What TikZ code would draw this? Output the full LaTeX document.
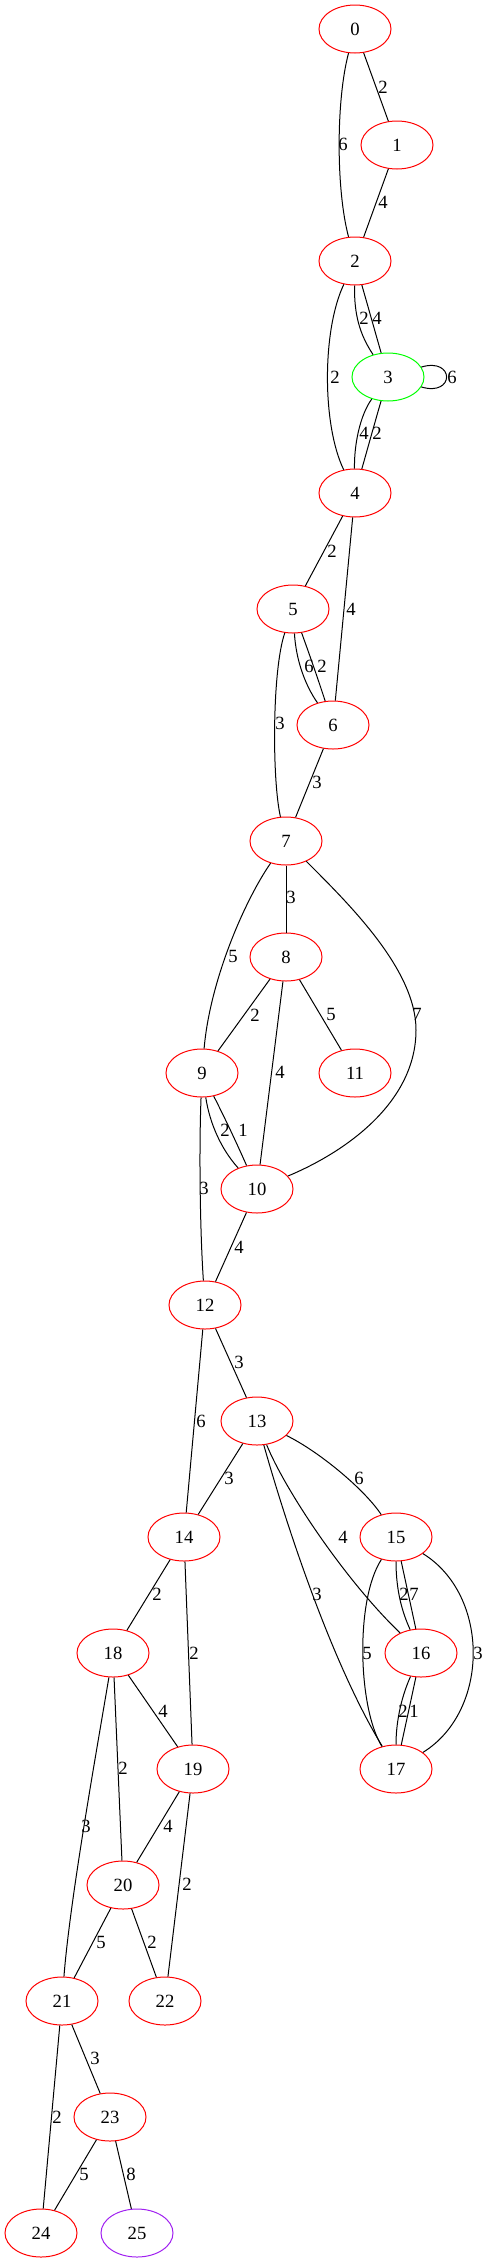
\documentclass[tikz,border=0pt]{standalone}
\usepackage{fontspec}
\setmainfont{Liberation Serif}
\usetikzlibrary{shapes.geometric}
\definecolor{gvred}{HTML}{FF0000}
\definecolor{gvgreen}{HTML}{00FF00}
\definecolor{gvpurple}{HTML}{A020F0}
\begin{document}
\begin{tikzpicture}[x=0.75pt,y=-0.75pt,
  vert/.style={ellipse,draw=gvred,line width=0.75pt,minimum width=54pt,minimum height=36pt,inner sep=0pt,font=\fontsize{14}{16}\selectfont},
  conn/.style={line width=0.75pt,black},
  elabel/.style={inner sep=0pt,font=\fontsize{14}{16}\selectfont}]
\useasboundingbox (0,0) rectangle (489,2263);
% nodes
\node[vert] (n0) at (355,29) {0};
\node[vert] (n1) at (397,145) {1};
\node[vert] (n2) at (355,261) {2};
\node[vert,draw=gvgreen] (n3) at (388,377) {3};
\node[vert] (n4) at (355,493) {4};
\node[vert] (n5) at (293,609) {5};
\node[vert] (n6) at (333,725) {6};
\node[vert] (n7) at (286,841) {7};
\node[vert] (n8) at (286,957) {8};
\node[vert] (n9) at (202,1073) {9};
\node[vert] (n11) at (355,1073) {11};
\node[vert] (n10) at (257,1189) {10};
\node[vert] (n12) at (205,1305) {12};
\node[vert] (n13) at (257,1421) {13};
\node[vert] (n14) at (184,1537) {14};
\node[vert] (n15) at (396,1537) {15};
\node[vert] (n16) at (421,1653) {16};
\node[vert] (n18) at (113,1653) {18};
\node[vert] (n17) at (396,1769) {17};
\node[vert] (n19) at (193,1769) {19};
\node[vert] (n20) at (123,1885) {20};
\node[vert] (n21) at (62,2001) {21};
\node[vert] (n22) at (165,2001) {22};
\node[vert] (n23) at (110,2117) {23};
\node[vert] (n24) at (41,2233) {24};
\node[vert,draw=gvpurple] (n25) at (137,2233) {25};
% edges
\draw[conn] (n0) -- (n1);
\draw[conn] (n0) .. controls (336,100) and (336,190) .. (n2);
\draw[conn] (n1) -- (n2);
\draw[conn] (n2) .. controls (354,315) and (360,335) .. (n3);
\draw[conn] (n2) .. controls (368.3,307.7) and (374.7,330.3) .. (n3);
\draw[conn] (n2) .. controls (322,330) and (322,425) .. (n4);
\draw[conn] (n3) .. controls (455,357) and (455,397) .. (n3);
\draw[conn] (n3) .. controls (360,415) and (354,445) .. (n4);
\draw[conn] (n3) .. controls (374.7,423) and (368.3,446) .. (n4);
\draw[conn] (n4) -- (n5);
\draw[conn] (n4) -- (n6);
\draw[conn] (n5) .. controls (296,660) and (305,685) .. (n6);
\draw[conn] (n5) .. controls (310,656) and (318,679) .. (n6);
\draw[conn] (n5) .. controls (272,670) and (272,780) .. (n7);
\draw[conn] (n6) -- (n7);
\draw[conn] (n7) -- (n8);
\draw[conn] (n7) .. controls (245,900) and (210,980) .. (n9);
\draw[conn] (n7) .. controls (350,905) and (416,970) .. (416,1030) .. controls (416,1100) and (350,1150) .. (n10);
\draw[conn] (n8) -- (n9);
\draw[conn] (n8) -- (n10);
\draw[conn] (n8) -- (n11);
\draw[conn] (n9) .. controls (210,1125) and (222,1150) .. (n10);
\draw[conn] (n9) .. controls (225.7,1119.7) and (236.3,1142.3) .. (n10);
\draw[conn] (n9) .. controls (199,1150) and (200,1230) .. (n12);
\draw[conn] (n10) -- (n12);
\draw[conn] (n12) -- (n13);
\draw[conn] (n12) -- (n14);
\draw[conn] (n13) -- (n14);
\draw[conn] (n13) .. controls (320,1452) and (365,1490) .. (n15);
\draw[conn] (n13) .. controls (285,1490) and (345,1580) .. (n16);
\draw[conn] (n13) .. controls (285,1520) and (330,1660) .. (n17);
\draw[conn] (n15) .. controls (396,1590) and (402,1612) .. (n16);
\draw[conn] (n15) .. controls (406,1583.7) and (411,1606.3) .. (n16);
\draw[conn] (n15) .. controls (355,1600) and (358,1708) .. (n17);
\draw[conn] (n15) .. controls (490,1595) and (490,1711) .. (n17);
\draw[conn] (n16) .. controls (400,1700) and (396,1725) .. (n17);
\draw[conn] (n16) .. controls (411,1700) and (406,1723) .. (n17);
\draw[conn] (n14) -- (n18);
\draw[conn] (n14) -- (n19);
\draw[conn] (n18) -- (n19);
\draw[conn] (n18) -- (n20);
\draw[conn] (n18) .. controls (95,1760) and (70,1900) .. (n21);
\draw[conn] (n19) -- (n20);
\draw[conn] (n19) -- (n22);
\draw[conn] (n20) -- (n21);
\draw[conn] (n20) -- (n22);
\draw[conn] (n21) -- (n23);
\draw[conn] (n21) -- (n24);
\draw[conn] (n23) -- (n24);
\draw[conn] (n23) -- (n25);
% labels
\node[elabel] (l01) at (383,87) {2};
\node[elabel] (l02) at (343,144) {6};
\node[elabel] (l12) at (383,202) {4};
\node[elabel] (l23a) at (364,318) {2};
\node[elabel] (l23b) at (377,318) {4};
\node[elabel] (l24) at (335,377) {2};
\node[elabel] (l33) at (452,377) {6};
\node[elabel] (l34a) at (364,433) {4};
\node[elabel] (l34b) at (377,433) {2};
\node[elabel] (l45) at (332,551) {2};
\node[elabel] (l46) at (351,609) {4};
\node[elabel] (l56a) at (309,666) {6};
\node[elabel] (l56b) at (322,666) {2};
\node[elabel] (l57) at (280,723) {3};
\node[elabel] (l67) at (317,782) {3};
\node[elabel] (l78) at (291,897) {3};
\node[elabel] (l79) at (233,956) {5};
\node[elabel] (l710) at (417,1014) {7};
\node[elabel] (l89) at (255,1015) {2};
\node[elabel] (l810) at (280,1072) {4};
\node[elabel] (l811) at (331,1014) {5};
\node[elabel] (l910a) at (225,1130) {2};
\node[elabel] (l910b) at (243,1130) {1};
\node[elabel] (l912) at (204,1188) {3};
\node[elabel] (l1012) at (239,1247) {4};
\node[elabel] (l1213) at (239,1362) {3};
\node[elabel] (l1214) at (201,1421) {6};
\node[elabel] (l1314) at (229,1478) {3};
\node[elabel] (l1315) at (359,1478) {6};
\node[elabel] (l1316) at (343,1537) {4};
\node[elabel] (l1317) at (317,1594) {3};
\node[elabel] (l1516a) at (404,1594) {2};
\node[elabel] (l1516b) at (414,1594) {7};
\node[elabel] (l1517a) at (367,1653) {5};
\node[elabel] (l1517b) at (478,1653) {3};
\node[elabel] (l1617a) at (403,1711) {2};
\node[elabel] (l1617b) at (414,1711) {1};
\node[elabel] (l1418) at (157,1594) {2};
\node[elabel] (l1419) at (194,1653) {2};
\node[elabel] (l1819) at (163,1711) {4};
\node[elabel] (l1820) at (123,1768) {2};
\node[elabel] (l1821) at (86,1826) {3};
\node[elabel] (l1920) at (168,1826) {4};
\node[elabel] (l1922) at (187,1884) {2};
\node[elabel] (l2021) at (101,1942) {5};
\node[elabel] (l2022) at (152,1942) {2};
\node[elabel] (l2123) at (95,2058) {3};
\node[elabel] (l2124) at (57,2117) {2};
\node[elabel] (l2324) at (84,2174) {5};
\node[elabel] (l2325) at (131,2174) {8};
\end{tikzpicture}
\end{document}
